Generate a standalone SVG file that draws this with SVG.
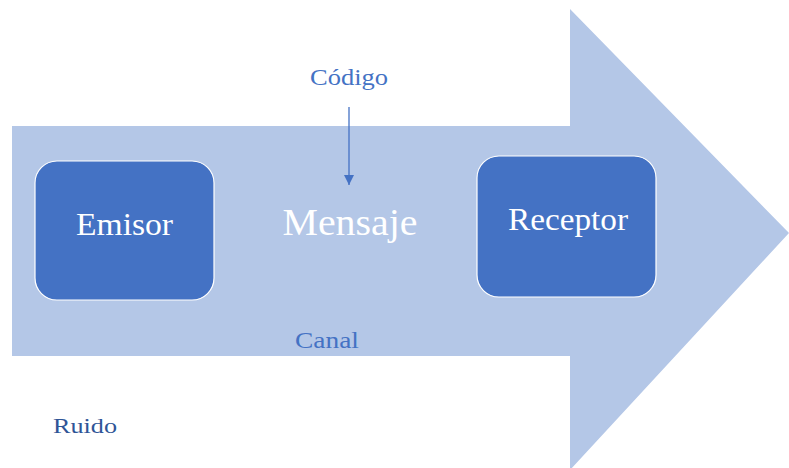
<svg xmlns="http://www.w3.org/2000/svg" width="789" height="468" viewBox="0 0 789 468">
<defs>
<style>
.box{fill:#4472C4;stroke:#FFFFFF;stroke-width:1.2}
.wt{fill:#FFFFFF;font-family:"Liberation Serif","Times New Roman",serif;text-anchor:middle}
.bt{fill:#4472C4;font-family:"Liberation Serif","Times New Roman",serif;text-anchor:middle}
</style>
<marker id="ah" viewBox="0 0 10 10" refX="10" refY="5" markerWidth="10" markerHeight="10" markerUnits="userSpaceOnUse" orient="auto">
<path d="M0,0 L10,5 L0,10 z" fill="#4472C4"/>
</marker>
</defs>
<g id="canal">
<path d="M12,126 L570,126 L570,9 L789,233 L570,470 L570,356 L12,356 Z" fill="#B4C7E7"/>
<text class="bt" x="327" y="348" font-size="23" textLength="64" lengthAdjust="spacingAndGlyphs">Canal</text>
</g>
<g id="emisor">
<rect class="box" x="35" y="161" width="179" height="139" rx="22"/>
<text class="wt" x="124.5" y="235" font-size="32" textLength="97" lengthAdjust="spacingAndGlyphs">Emisor</text>
</g>
<g id="mensaje">
<text class="wt" x="350" y="235" font-size="38" textLength="135" lengthAdjust="spacingAndGlyphs">Mensaje</text>
</g>
<g id="receptor">
<rect class="box" x="477" y="156" width="179" height="141" rx="22"/>
<text class="wt" x="568" y="230" font-size="32" textLength="120" lengthAdjust="spacingAndGlyphs">Receptor</text>
</g>
<g id="codigo">
<text class="bt" x="349" y="85" font-size="23" textLength="78" lengthAdjust="spacingAndGlyphs">Código</text>
</g>
<g id="ruido">
<text x="53" y="433" font-size="22" fill="#2F5597" font-family="Liberation Serif,'Times New Roman',serif" textLength="64" lengthAdjust="spacingAndGlyphs">Ruido</text>
</g>
<g id="connectors">
<line x1="349" y1="107" x2="349" y2="185" stroke="#4472C4" stroke-width="1.3" marker-end="url(#ah)"/>
</g>
</svg>
